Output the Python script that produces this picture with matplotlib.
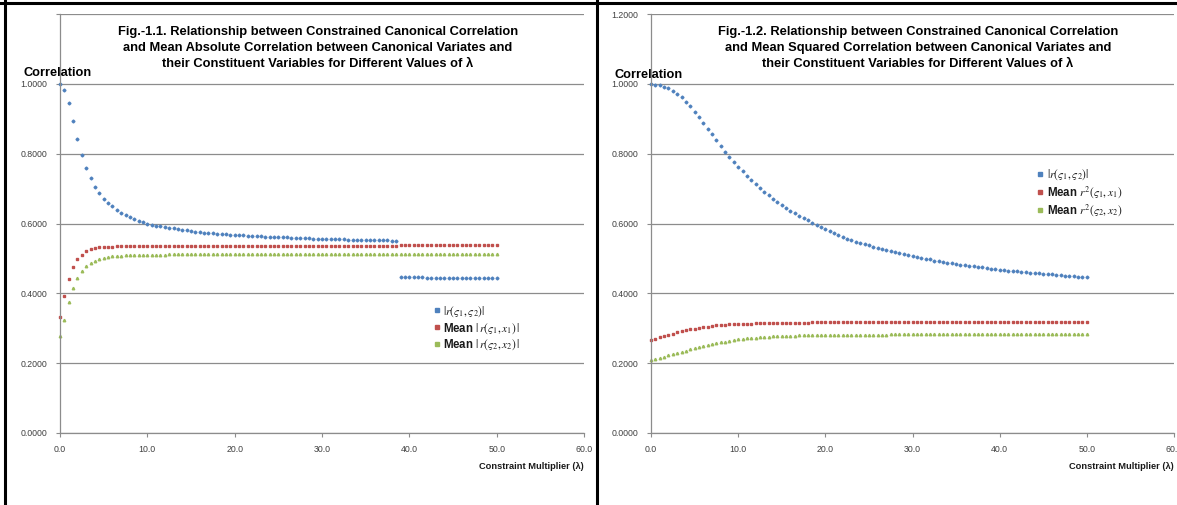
import matplotlib
matplotlib.use('Agg')
import matplotlib.pyplot as plt
from matplotlib.lines import Line2D
from matplotlib.ticker import FuncFormatter

plt.rcParams['font.family'] = ['Liberation Sans', 'DejaVu Sans']
plt.rcParams['mathtext.fontset'] = 'stix'

# lambda grid, step 0.5 from 0 to 50
lam = [i * 0.5 for i in range(101)]

# Fig 1.1 - |r(s1,s2)| (upper part to 38.5, then lower part from 39)
abs_can_upper = [
    1.000, 0.982, 0.944, 0.893, 0.842, 0.796, 0.759, 0.730, 0.705, 0.687,
    0.671, 0.658, 0.649, 0.639, 0.630, 0.624, 0.618, 0.613, 0.608, 0.604,
    0.600, 0.597, 0.594, 0.592, 0.590, 0.588, 0.586, 0.584, 0.582, 0.580,
    0.578, 0.577, 0.575, 0.574, 0.573, 0.572, 0.571, 0.570, 0.569, 0.568,
    0.567, 0.566, 0.566, 0.565, 0.564, 0.564, 0.563, 0.562, 0.562, 0.561,
    0.561, 0.560, 0.560, 0.559, 0.559, 0.558, 0.558, 0.558, 0.557, 0.557,
    0.556, 0.556, 0.556, 0.555, 0.555, 0.555, 0.554, 0.554, 0.554, 0.553,
    0.553, 0.553, 0.553, 0.552, 0.552, 0.552, 0.551, 0.551]
abs_can_lower = [
    0.446, 0.446, 0.446, 0.446, 0.446, 0.446, 0.445, 0.445, 0.445, 0.445,
    0.445, 0.445, 0.445, 0.445, 0.445, 0.445, 0.444, 0.444, 0.444, 0.444,
    0.444, 0.444, 0.444]
abs_x1 = [
    0.332, 0.393, 0.442, 0.475, 0.497, 0.511, 0.521, 0.527, 0.530, 0.532,
    0.533, 0.534, 0.534, 0.535, 0.535, 0.535, 0.535, 0.536, 0.536, 0.536,
    0.536, 0.536, 0.536, 0.536, 0.536, 0.536, 0.536, 0.536, 0.536, 0.536,
    0.536, 0.536, 0.536, 0.536, 0.536, 0.536, 0.536, 0.536, 0.536, 0.536,
    0.536, 0.536, 0.536, 0.536, 0.536, 0.536, 0.536, 0.536, 0.536, 0.536,
    0.536, 0.536, 0.536, 0.536, 0.536, 0.536, 0.536, 0.536, 0.536, 0.536,
    0.536, 0.536, 0.536, 0.536, 0.536, 0.536, 0.536, 0.536, 0.536, 0.536,
    0.536, 0.536, 0.536, 0.536, 0.536, 0.536, 0.536, 0.536, 0.539, 0.539,
    0.539, 0.539, 0.539, 0.539, 0.539, 0.539, 0.539, 0.539, 0.539, 0.539,
    0.539, 0.539, 0.539, 0.539, 0.539, 0.539, 0.539, 0.539, 0.539, 0.539,
    0.539]
abs_x2 = [
    0.278, 0.323, 0.375, 0.416, 0.445, 0.465, 0.478, 0.487, 0.492, 0.497,
    0.501, 0.504, 0.506, 0.507, 0.508, 0.509, 0.510, 0.510, 0.510, 0.511,
    0.511, 0.511, 0.511, 0.511, 0.511, 0.512, 0.512, 0.512, 0.512, 0.512,
    0.512, 0.512, 0.512, 0.512, 0.512, 0.512, 0.512, 0.512, 0.512, 0.512,
    0.513, 0.513, 0.513, 0.513, 0.513, 0.513, 0.513, 0.513, 0.513, 0.513,
    0.513, 0.513, 0.513, 0.513, 0.513, 0.513, 0.513, 0.513, 0.513, 0.513,
    0.513, 0.513, 0.513, 0.513, 0.513, 0.513, 0.513, 0.513, 0.513, 0.513,
    0.513, 0.513, 0.513, 0.513, 0.513, 0.513, 0.513, 0.513, 0.513, 0.513,
    0.513, 0.513, 0.513, 0.513, 0.513, 0.513, 0.513, 0.513, 0.513, 0.513,
    0.514, 0.514, 0.514, 0.514, 0.514, 0.514, 0.514, 0.514, 0.514, 0.514,
    0.514]

# Fig 1.2
sq_can = [
    1.000, 0.998, 0.996, 0.992, 0.987, 0.980, 0.971, 0.961, 0.949, 0.936,
    0.920, 0.905, 0.889, 0.872, 0.855, 0.838, 0.822, 0.806, 0.790, 0.776,
    0.762, 0.749, 0.736, 0.724, 0.712, 0.701, 0.690, 0.681, 0.671, 0.662,
    0.653, 0.645, 0.637, 0.630, 0.622, 0.615, 0.609, 0.602, 0.596, 0.589,
    0.583, 0.578, 0.572, 0.567, 0.562, 0.557, 0.553, 0.548, 0.544, 0.540,
    0.537, 0.533, 0.530, 0.527, 0.524, 0.521, 0.518, 0.515, 0.512, 0.509,
    0.506, 0.504, 0.501, 0.499, 0.497, 0.494, 0.492, 0.490, 0.488, 0.486,
    0.484, 0.482, 0.480, 0.479, 0.477, 0.475, 0.474, 0.472, 0.471, 0.469,
    0.468, 0.467, 0.465, 0.464, 0.463, 0.461, 0.460, 0.459, 0.458, 0.457,
    0.456, 0.455, 0.454, 0.453, 0.452, 0.451, 0.450, 0.449, 0.448, 0.448,
    0.447]
sq_x1 = [
    0.267, 0.270, 0.274, 0.277, 0.281, 0.284, 0.288, 0.291, 0.294, 0.297,
    0.299, 0.301, 0.303, 0.305, 0.307, 0.308, 0.309, 0.310, 0.311, 0.311,
    0.312, 0.312, 0.313, 0.313, 0.314, 0.314, 0.314, 0.315, 0.315, 0.315,
    0.315, 0.316, 0.316, 0.316, 0.316, 0.316, 0.316, 0.317, 0.317, 0.317,
    0.317, 0.317, 0.317, 0.317, 0.317, 0.317, 0.317, 0.317, 0.317, 0.317,
    0.317, 0.317, 0.317, 0.317, 0.317, 0.317, 0.317, 0.317, 0.317, 0.317,
    0.318, 0.318, 0.318, 0.318, 0.318, 0.318, 0.318, 0.318, 0.318, 0.318,
    0.318, 0.318, 0.318, 0.318, 0.318, 0.318, 0.318, 0.318, 0.318, 0.318,
    0.318, 0.318, 0.318, 0.318, 0.318, 0.318, 0.318, 0.318, 0.318, 0.318,
    0.318, 0.318, 0.318, 0.318, 0.318, 0.318, 0.318, 0.318, 0.318, 0.318,
    0.318]
sq_x2 = [
    0.210, 0.213, 0.216, 0.219, 0.222, 0.226, 0.229, 0.233, 0.236, 0.240,
    0.243, 0.246, 0.249, 0.252, 0.255, 0.258, 0.260, 0.262, 0.264, 0.266,
    0.268, 0.270, 0.271, 0.272, 0.273, 0.274, 0.275, 0.276, 0.277, 0.277,
    0.278, 0.278, 0.279, 0.279, 0.280, 0.280, 0.280, 0.281, 0.281, 0.281,
    0.281, 0.281, 0.282, 0.282, 0.282, 0.282, 0.282, 0.282, 0.282, 0.282,
    0.282, 0.282, 0.282, 0.282, 0.282, 0.283, 0.283, 0.283, 0.283, 0.283,
    0.283, 0.283, 0.283, 0.283, 0.283, 0.283, 0.283, 0.283, 0.283, 0.283,
    0.283, 0.283, 0.283, 0.283, 0.283, 0.283, 0.283, 0.283, 0.283, 0.283,
    0.284, 0.284, 0.284, 0.284, 0.284, 0.284, 0.284, 0.284, 0.284, 0.284,
    0.284, 0.284, 0.284, 0.284, 0.284, 0.284, 0.284, 0.284, 0.284, 0.284,
    0.284]

titles = [
    'Fig.-1.1. Relationship between Constrained Canonical Correlation\n'
    'and Mean Absolute Correlation between Canonical Variates and\n'
    'their Constituent Variables for Different Values of \u03bb',
    'Fig.-1.2. Relationship between Constrained Canonical Correlation\n'
    'and Mean Squared Correlation between Canonical Variates and\n'
    'their Constituent Variables for Different Values of \u03bb',
]
labels_1 = [r'$|r(\varsigma_1,\varsigma_2)|$',
            r'Mean $|\,r(\varsigma_1,x_1)\,|$',
            r'Mean $|\,r(\varsigma_2,x_2)\,|$']
labels_2 = [r'$|r(\varsigma_1,\varsigma_2)|$',
            r'Mean $r^2(\varsigma_1,x_1)$',
            r'Mean $r^2(\varsigma_2,x_2)$']

BLUE = '#4F81BD'
RED = '#C0504D'
GREEN = '#9BBB59'
GRID = '#8c8c8c'

W, H = 1177, 505
fig = plt.figure(figsize=(W / 100, H / 100), dpi=100)
ax1 = fig.add_axes([60 / W, 1 - 433 / H, 524 / W, 419 / H])
ax2 = fig.add_axes([651 / W, 1 - 433 / H, 523 / W, 419 / H])


def style_axes(ax, hide_top_label):
    ax.set_xlim(0, 60)
    ax.set_ylim(0, 1.2)
    ax.set_xticks([0, 10, 20, 30, 40, 50, 60])
    ax.set_yticks([0, 0.2, 0.4, 0.6, 0.8, 1.0, 1.2])
    ax.xaxis.set_major_formatter(FuncFormatter(lambda v, p: '%.1f' % v))
    if hide_top_label:
        ax.yaxis.set_major_formatter(
            FuncFormatter(lambda v, p: '' if v > 1.1 else '%.4f' % v))
    else:
        ax.yaxis.set_major_formatter(FuncFormatter(lambda v, p: '%.4f' % v))
    ax.grid(axis='y', color=GRID, linewidth=0.9)
    ax.set_axisbelow(True)
    for s in ['top', 'right']:
        ax.spines[s].set_visible(False)
    for s in ['left', 'bottom']:
        ax.spines[s].set_color(GRID)
        ax.spines[s].set_linewidth(0.9)
    ax.tick_params(axis='both', direction='out', length=3, width=0.8,
                   color=GRID, labelsize=6.3, labelcolor='#404040', pad=6)
    ax.patch.set_alpha(0)


style_axes(ax1, True)
style_axes(ax2, False)

ms = dict(linestyle='none', clip_on=False)
ax1.plot(lam[:78], abs_can_upper, marker='D', markersize=1.5, color=BLUE, **ms)
ax1.plot(lam[78:], abs_can_lower, marker='D', markersize=1.5, color=BLUE, **ms)
ax1.plot(lam, abs_x1, marker='s', markersize=1.9, color=RED, **ms)
ax1.plot(lam, abs_x2, marker='^', markersize=1.8, color=GREEN, **ms)

ax2.plot(lam, sq_can, marker='D', markersize=1.5, color=BLUE, **ms)
ax2.plot(lam, sq_x1, marker='s', markersize=1.9, color=RED, **ms)
ax2.plot(lam, sq_x2, marker='^', markersize=1.8, color=GREEN, **ms)

for ax, labels, anchor, cx, title, corr_y in [
        (ax1, labels_1, (0.712, 0.308), 318, titles[0], 1.022),
        (ax2, labels_2, (0.738, 0.634), 918, titles[1], 1.016)]:
    handles = [Line2D([], [], linestyle='none', marker='s', markersize=3.5,
                      color=c) for c in [BLUE, RED, GREEN]]
    leg = ax.legend(handles, labels, loc='upper left', bbox_to_anchor=anchor,
                    frameon=False, handlelength=0.6, handletextpad=0.3,
                    labelspacing=0.2, borderpad=0, borderaxespad=0,
                    prop={'size': 8.3, 'weight': 'bold'})
    for t in leg.get_texts():
        t.set_color('#1a1a1a')
    fig.text(cx / W, 1 - 48 / H, title, ha='center', va='center',
             fontsize=9.3, fontweight='bold', linespacing=1.45)
    ax.text(-0.07, corr_y, 'Correlation', transform=ax.get_yaxis_transform(),
            ha='left', va='baseline', fontsize=9.2, fontweight='bold')
    ax.text(1.0, -0.07, 'Constraint Multiplier (\u03bb)',
            transform=ax.transAxes, ha='right', va='top', fontsize=6.7,
            fontweight='bold', color='#1a1a1a')

# black frame lines of the original screenshot
lw = 2.2
fig.add_artist(Line2D([0, 1], [1 - 2.5 / H, 1 - 2.5 / H],
                      transform=fig.transFigure, color='black', lw=lw))
fig.add_artist(Line2D([5 / W, 5 / W], [0, 1], transform=fig.transFigure,
                      color='black', lw=lw))
fig.add_artist(Line2D([597 / W, 597 / W], [0, 1], transform=fig.transFigure,
                      color='black', lw=lw))

fig.savefig('out.png', dpi=100)
